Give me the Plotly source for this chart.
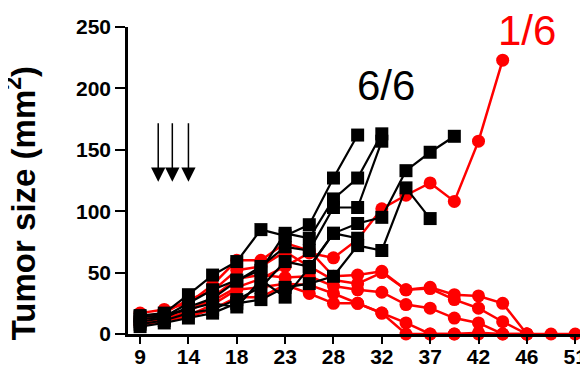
import numpy as np
import plotly.graph_objects as go

# measurement days (evenly spaced categories on the x axis)
days = [9, 11, 14, 16, 18, 21, 23, 25, 28, 30, 32, 35, 37, 39, 42, 44, 46, 49, 51]
tick_days = [9, 14, 18, 23, 28, 32, 37, 42, 46, 51]
treatment_days = [10.5, 12, 14]
y_ticks = [0, 50, 100, 150, 200, 250]

# control group (black squares)
ctrl_1 = [15, 17, 32, 48, 59, 85, 80, 89, 127, 162]
ctrl_2 = [12, 14, 25, 36, 44, 52, 82, 78, 110, 127, 163]
ctrl_3 = [10, 13, 22, 29, 43, 55, 71, 68, 103, 103, 157]
ctrl_4 = [8, 11, 17, 20, 28, 38, 59, 55, 82, 90, 95, 133, 148, 161]
ctrl_5 = [6, 9, 13, 17, 25, 28, 38, 41, 47, 72, 68, 119, 94]
ctrl_6 = [14, 15, 20, 25, 22, 44, 30, 54, 82, 78]

# treated group (red circles)
trt_1 = [12, 15, 20, 27, 38, 45, 55, 66, 62, 77, 102, 113, 123, 108, 157, 223]
trt_2 = [17, 20, 25, 40, 60, 60, 74, 68, 47, 48, 51, 36, 38, 32, 31, 25, 0, 0, 0]
trt_3 = [14, 17, 28, 35, 52, 55, 67, 55, 44, 41, 50, 36, 37, 28, 21, 10, 0]
trt_4 = [10, 13, 18, 30, 45, 48, 46, 47, 39, 36, 34, 24, 21, 13, 9, 0, 0]
trt_5 = [8, 12, 15, 24, 36, 38, 41, 40, 33, 25, 17, 9, 0, 0, 1, 0, 0]
trt_6 = [7, 11, 14, 20, 30, 30, 40, 33, 25, 25, 17, 0, 0, 0, 0]

control = [ctrl_1, ctrl_2, ctrl_3, ctrl_4, ctrl_5, ctrl_6]
treated = [trt_1, trt_2, trt_3, trt_4, trt_5, trt_6]

idx = list(range(len(days)))
FONT = "Arial, Liberation Sans, DejaVu Sans, sans-serif"

fig = go.Figure()
for s in treated:
    fig.add_trace(go.Scatter(
        x=idx[:len(s)], y=s, mode="lines+markers", cliponaxis=False,
        line=dict(color="#FF0000", width=2.5),
        marker=dict(symbol="circle", size=13, color="#FF0000"),
        showlegend=False, hoverinfo="skip"))
for s in control:
    fig.add_trace(go.Scatter(
        x=idx[:len(s)], y=s, mode="lines+markers", cliponaxis=False,
        line=dict(color="#000000", width=2.2),
        marker=dict(symbol="square", size=13, color="#000000"),
        showlegend=False, hoverinfo="skip"))

# treatment arrows
for d in treatment_days:
    xp = float(np.interp(d, days, idx))
    fig.add_annotation(x=xp, y=124, xref="x", yref="y", ax=0, ay=-60,
                       showarrow=True, arrowhead=2, arrowsize=1.9,
                       arrowwidth=1.5, arrowcolor="#000000", text="")

fig.add_annotation(x=0.561, y=0.811, xref="paper", yref="paper", text="6/6",
                   xanchor="center", yanchor="middle", showarrow=False,
                   font=dict(family=FONT, size=42, color="#000000"))
fig.add_annotation(x=0.867, y=0.99, xref="paper", yref="paper", text="1/6",
                   xanchor="center", yanchor="middle", showarrow=False,
                   font=dict(family=FONT, size=42, color="#FF0000"))
# y axis title
fig.add_annotation(x=-0.233, y=0.425, xref="paper", yref="paper",
                   text="Tumor size (mm<sup>2</sup>)", textangle=-90,
                   xanchor="center", yanchor="middle", showarrow=False,
                   font=dict(family=FONT, size=33, weight="bold", color="#000000"))

# the page adds an 8 px body margin, so the figure is 8 px smaller and shifted
fig.update_layout(
    width=580, height=361,
    margin=dict(l=120, r=0, t=19, b=35),
    paper_bgcolor="white", plot_bgcolor="white",
    font=dict(family=FONT, color="#000000"),
    xaxis=dict(range=[-0.5, 18.53], tickvals=[days.index(d) for d in tick_days],
               ticktext=[str(d) for d in tick_days], automargin=False,
               showline=True, linecolor="#000000", linewidth=2.5,
               ticks="outside", ticklen=7, tickwidth=2.2, tickcolor="#000000",
               ticklabelstandoff=-5,
               tickfont=dict(family=FONT, size=21, weight="bold"),
               showgrid=False, zeroline=False),
    yaxis=dict(range=[0, 250], tickvals=y_ticks, automargin=False,
               showline=True, linecolor="#000000", linewidth=2.5,
               ticks="outside", ticklen=10, tickwidth=2.2, tickcolor="#000000",
               tickfont=dict(family=FONT, size=21, weight="bold"),
               showgrid=False, zeroline=False),
)
fig.write_html("out.html")
